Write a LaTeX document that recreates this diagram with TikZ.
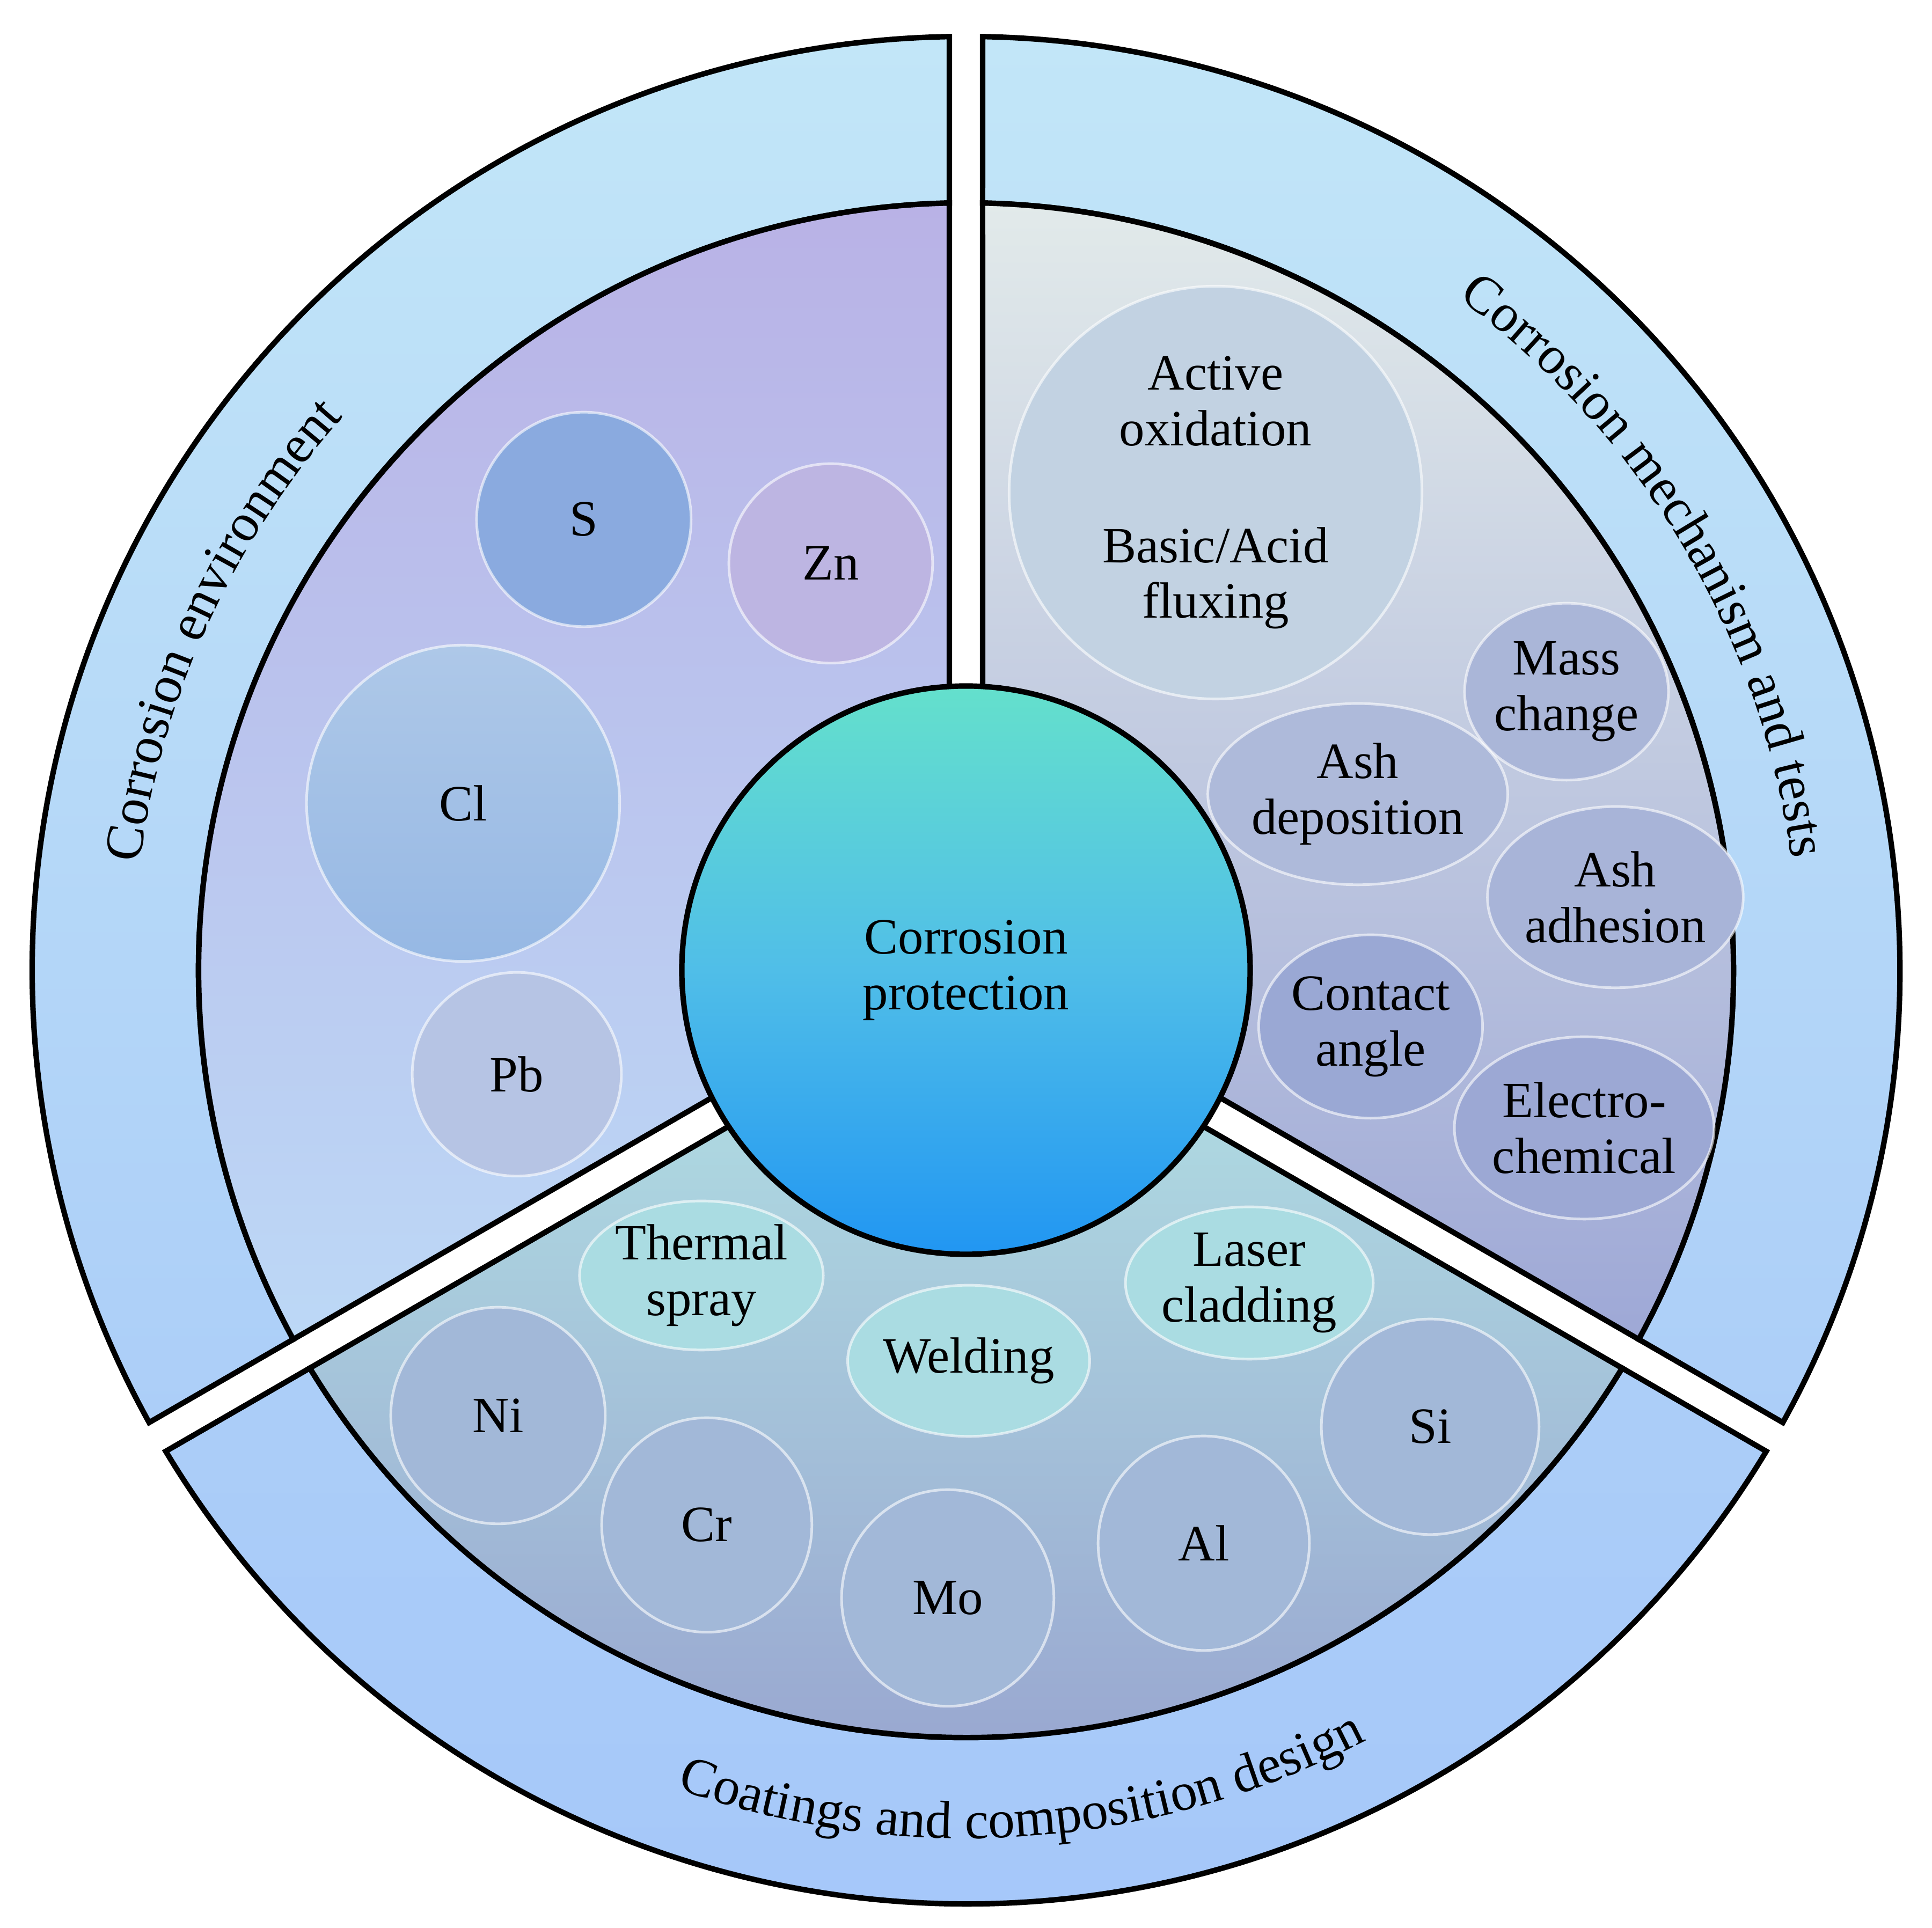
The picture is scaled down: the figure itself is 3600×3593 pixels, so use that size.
\documentclass[tikz,border=0pt]{standalone}
\usepackage{fontspec}
\setmainfont{Liberation Serif}
\usetikzlibrary{shapes.geometric}
\usetikzlibrary{decorations.text}

\definecolor{ringtop}{HTML}{C2E6F8}
\definecolor{ringmid}{HTML}{ACCEF8}
\definecolor{ringbot}{HTML}{A4C6FA}
\definecolor{envtop}{HTML}{B9B2E6}
\definecolor{envbot}{HTML}{BCD8F6}
\definecolor{mechtop}{HTML}{E2EAEA}
\definecolor{mechbot}{HTML}{9EA8D6}
\definecolor{coattop}{HTML}{B2E2E4}
\definecolor{coatbot}{HTML}{96A0CE}
\definecolor{coretop}{HTML}{64E0CC}
\definecolor{coremid}{HTML}{50BEE8}
\definecolor{corebot}{HTML}{2196F2}
\definecolor{sbub}{HTML}{8AAADF}
\definecolor{znbub}{HTML}{BDB5E2}
\definecolor{cltop}{HTML}{AEC8E8}
\definecolor{clbot}{HTML}{96B8E4}
\definecolor{pbbub}{HTML}{B6C4E4}
\definecolor{actbub}{HTML}{C2D2E2}
\definecolor{massbub}{HTML}{AAB6D8}
\definecolor{depbub}{HTML}{AEBADA}
\definecolor{adhbub}{HTML}{A8B4D8}
\definecolor{contbub}{HTML}{9AA8D4}
\definecolor{elecbub}{HTML}{9CA8D4}
\definecolor{procbub}{HTML}{AADCE2}
\definecolor{elembub}{HTML}{A2B8D8}

\newcommand{\Rout}{1740}
\newcommand{\Rin}{1430}
\newcommand{\ringfont}{\fontsize{14.2}{16}\selectfont}

\begin{document}
\begin{tikzpicture}[x=0.005cm,y=0.005cm,
		every node/.style={font=\fontsize{13.5}{14.8}\selectfont},
		border/.style={draw=black,line width=1.45pt,line join=miter},
		bubble/.style={ellipse,draw=white,draw opacity=0.6,line width=0.7pt,inner sep=0pt,align=center},
		ringtext/.style={decorate,decoration={text along path,text align=center,text={|\ringfont|#1}}}]
		\useasboundingbox (-1800,-1785) rectangle (1800,1808);
		
		% three sectors, ring piece and inner piece
		\foreach \ang/\ringa/\ringb/\seca/\secb in {150/ringtop/ringmid/envtop/envbot,30/ringtop/ringmid/mechtop/mechbot,270/ringmid/ringbot/coattop/coatbot}{
			\path[border,top color=\ringa,bottom color=\ringb] ({\ang-58.98}:\Rout) arc[start angle=\ang-58.98,end angle=\ang+58.98,radius=\Rout] -- ({\ang+58.76}:\Rin) arc[start angle=\ang+58.76,end angle=\ang-58.76,radius=\Rin] -- cycle;
			\path[border,top color=\seca,bottom color=\secb] (\ang:35.8) -- ({\ang-58.76}:\Rin) arc[start angle=\ang-58.76,end angle=\ang+58.76,radius=\Rin] -- cycle;
		}
		
		% ring labels
		\path[ringtext={Corrosion environment}] (185:1552) arc[start angle=185,end angle=126,radius=1552];
		\path[ringtext={Corrosion mechanism and tests}] (74.75:1552) arc[start angle=74.75,end angle=-13.25,radius=1552];
		\path[ringtext={Coatings and composition design}] (226:1618) arc[start angle=226,end angle=322,radius=1618];
		
		% corrosion environment
		\node[bubble,fill=sbub,minimum width=2cm,minimum height=2cm]   (s)  at (-712,840)  {S};
		\node[bubble,fill=znbub,minimum width=1.9cm,minimum height=1.86cm] (zn) at (-252,758) {Zn};
		\node[bubble,top color=cltop,bottom color=clbot,minimum width=2.92cm,minimum height=2.95cm] (cl) at (-937,311) {Cl};
		\node[bubble,fill=pbbub,minimum width=1.95cm,minimum height=1.9cm] (pb) at (-837,-194) {Pb};
		
		% corrosion mechanism and tests
		\node[bubble,fill=actbub,minimum width=3.85cm,minimum height=3.85cm] (act) at (465,890) {Active\\oxidation\\[0.57cm]Basic/Acid\\fluxing};
		\node[bubble,fill=massbub,minimum width=1.65cm,minimum height=1.65cm] (mass) at (1119,519) {Mass\\change};
		\node[bubble,fill=depbub,minimum width=2.56cm,minimum height=1.69cm] (dep) at (730,328) {Ash\\deposition};
		\node[bubble,fill=adhbub,minimum width=2.07cm,minimum height=1.69cm] (adh) at (1210,136) {Ash\\adhesion};
		\node[bubble,fill=contbub,minimum width=1.93cm,minimum height=1.71cm] (cont) at (754,-105) {Contact\\angle};
		\node[bubble,fill=elecbub,minimum width=2.09cm,minimum height=1.7cm] (elec) at (1152,-294) {Electro-\\chemical};
		
		% coatings and composition design
		\node[bubble,fill=procbub,minimum width=2.21cm,minimum height=1.39cm] (spray) at (-493,-569) {Thermal\\spray};
		\node[bubble,fill=procbub,minimum width=2.21cm,minimum height=1.41cm] (weld) at (5,-728) {Welding};
		\node[bubble,fill=procbub,minimum width=2.18cm,minimum height=1.42cm] (laser) at (528,-583) {Laser\\cladding};
		\node[bubble,fill=elembub,minimum width=2cm,minimum height=2.02cm] (ni) at (-872,-830) {Ni};
		\node[bubble,fill=elembub,minimum width=1.96cm,minimum height=2cm] (cr) at (-483,-1034) {Cr};
		\node[bubble,fill=elembub,minimum width=1.98cm,minimum height=2.02cm] (mo) at (-34,-1170) {Mo};
		\node[bubble,fill=elembub,minimum width=1.97cm,minimum height=2cm] (al) at (443,-1068) {Al};
		\node[bubble,fill=elembub,minimum width=2.03cm,minimum height=2.01cm] (si) at (865,-851) {Si};
		
		% centre
		\node[circle,border,top color=coretop,bottom color=corebot,middle color=coremid,minimum size=5.3cm,align=center] (core) at (0,0) {Corrosion\\protection};
\end{tikzpicture}
\end{document}
